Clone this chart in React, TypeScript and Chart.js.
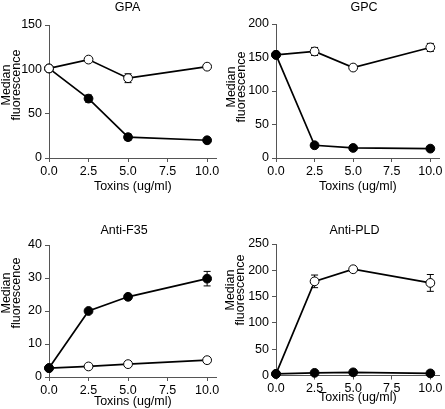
import React, { useEffect, useRef } from "react";
import { Chart, registerables } from "chart.js";

Chart.register(...registerables);

// ---- data ----
const doses = [0, 2.5, 5, 10];
const xTickValues = [0, 2.5, 5, 7.5, 10];

const gpaOpen = [101, 111, 90, 103];
const gpaOpenErr = [0, 1.5, 5, 2];
const gpaFilled = [101, 67, 23.5, 20];
const gpaFilledErr = [0, 4, 3.5, 1];

const gpcOpen = [154, 159, 135, 165];
const gpcOpenErr = [0, 6, 2, 6];
const gpcFilled = [154, 19, 15, 14];
const gpcFilledErr = [0, 1, 1, 1];

const f35Filled = [2.7, 20, 24.3, 29.8];
const f35FilledErr = [0, 0.4, 0.4, 2.2];
const f35Open = [2.7, 3.2, 3.9, 5.1];
const f35OpenErr = [0, 0.2, 0.2, 0.3];

const pldFilled = [3, 5, 6, 4];
const pldFilledErr = [0, 0.5, 0.5, 0.5];
const pldOpen = [3, 179, 202, 176];
const pldOpenErr = [0, 12, 2, 16];

const titles = ["GPA", "GPC", "Anti-F35", "Anti-PLD"];
const yTitleLines = ["Median", "fluorescence"];
const xTitle = "Toxins (ug/ml)";
const yMaxes = [150, 200, 40, 250];
const ySteps = [50, 50, 10, 50];
const xMax = 10.6;

type Series = { values: number[]; errors: number[]; filled: boolean };

// dataset listed first is drawn on top
const panelSeries: Series[][] = [
  [
    { values: gpaOpen, errors: gpaOpenErr, filled: false },
    { values: gpaFilled, errors: gpaFilledErr, filled: true },
  ],
  [
    { values: gpcFilled, errors: gpcFilledErr, filled: true },
    { values: gpcOpen, errors: gpcOpenErr, filled: false },
  ],
  [
    { values: f35Filled, errors: f35FilledErr, filled: true },
    { values: f35Open, errors: f35OpenErr, filled: false },
  ],
  [
    { values: pldFilled, errors: pldFilledErr, filled: true },
    { values: pldOpen, errors: pldOpenErr, filled: false },
  ],
];

// ---- layout (pixels) ----
type Layout = {
  left: number; top: number; w: number; h: number;
  aL: number; aR: number; aT: number; aB: number;
  tX: number; tY: number; xTitleY: number; yTitleX: number; yTitleY: number;
};
const layouts: Layout[] = [
  { left: 0, top: 0, w: 222, h: 205, aL: 49, aR: 218, aT: 25, aB: 158, tX: 127.5, tY: 7.5, xTitleY: 187, yTitleX: 7, yTitleY: 85 },
  { left: 222, top: 0, w: 223, h: 205, aL: 54, aR: 222, aT: 24, aB: 158, tX: 142, tY: 7.5, xTitleY: 187, yTitleX: 9.5, yTitleY: 87 },
  { left: 0, top: 205, w: 222, h: 204, aL: 49, aR: 218, aT: 40, aB: 172, tX: 124, tY: 25.5, xTitleY: 197, yTitleX: 7, yTitleY: 88 },
  { left: 222, top: 205, w: 223, h: 204, aL: 54, aR: 222, aT: 39, aB: 170.5, tX: 132.5, tY: 25.5, xTitleY: 193, yTitleX: 8.5, yTitleY: 85 },
];

const FONT = '"Liberation Sans", Arial, Helvetica, sans-serif';
const FS = 12.5;
const AXIS = "#555";

const errorBarPlugin = {
  id: "errorBars",
  beforeDatasetsDraw(chart: any) {
    const { ctx } = chart;
    const yScale = chart.scales.y;
    chart.data.datasets.forEach((ds: any, i: number) => {
      const errs: number[] | undefined = ds.errors;
      if (!errs) return;
      const meta = chart.getDatasetMeta(i);
      meta.data.forEach((pt: any, j: number) => {
        const e = errs[j];
        if (!e) return;
        const v = ds.data[j].y;
        const top = yScale.getPixelForValue(v + e);
        const bot = yScale.getPixelForValue(v - e);
        const x = pt.x;
        ctx.save();
        ctx.strokeStyle = "#000";
        ctx.lineWidth = 1;
        ctx.beginPath();
        ctx.moveTo(x, top);
        ctx.lineTo(x, bot);
        ctx.moveTo(x - 3.5, top);
        ctx.lineTo(x + 3.5, top);
        ctx.moveTo(x - 3.5, bot);
        ctx.lineTo(x + 3.5, bot);
        ctx.stroke();
        ctx.restore();
      });
    });
  },
};

// panel title + two-line y-axis title
const panelTextPlugin = {
  id: "panelText",
  afterDraw(chart: any, _args: any, opts: any) {
    const { ctx } = chart;
    ctx.save();
    ctx.font = `${FS}px ${FONT}`;
    ctx.fillStyle = "#000";
    ctx.textAlign = "center";
    ctx.textBaseline = "middle";
    ctx.fillText(opts.text, opts.x, opts.y);
    ctx.translate(opts.yx, opts.yy);
    ctx.rotate(-Math.PI / 2);
    (opts.yLines as string[]).forEach((line, k) => {
      ctx.fillText(line, 0, k * opts.yGap);
    });
    ctx.restore();
  },
};

function Panel({ idx }: { idx: number }) {
  const ref = useRef<HTMLCanvasElement | null>(null);
  const L = layouts[idx];
  useEffect(() => {
    if (!ref.current) return;
    const datasets = panelSeries[idx].map((s) => ({
      data: doses.map((d, k) => ({ x: d, y: s.values[k] })),
      errors: s.errors,
      borderColor: "#000",
      borderWidth: 1.7,
      pointRadius: 4.4,
      pointHoverRadius: 4.4,
      pointBorderWidth: 1,
      pointBorderColor: "#000",
      pointBackgroundColor: s.filled ? "#000" : "#fff",
      tension: 0,
      fill: false,
      clip: false as any,
    }));
    const chart = new Chart(ref.current, {
      type: "line",
      data: { datasets } as any,
      plugins: [errorBarPlugin, panelTextPlugin],
      options: {
        animation: false,
        responsive: false,
        events: [],
        layout: { padding: { left: 0, top: L.aT, right: L.w - L.aR, bottom: 0 } },
        plugins: {
          legend: { display: false },
          tooltip: { enabled: false },
          panelText: {
            text: titles[idx], x: L.tX, y: L.tY,
            yLines: yTitleLines, yx: L.yTitleX, yy: L.yTitleY, yGap: 10,
          },
        } as any,
        scales: {
          x: {
            type: "linear",
            min: 0,
            max: xMax,
            afterFit: (s: any) => { s.height = L.h - L.aB; },
            afterBuildTicks: (s: any) => { s.ticks = xTickValues.map((v) => ({ value: v })); },
            ticks: {
              color: "#000",
              font: { family: FONT, size: FS },
              padding: 2,
              maxRotation: 0,
              autoSkip: false,
              callback: (v: any) => Number(v).toFixed(1),
            },
            grid: { display: true, drawOnChartArea: false, drawTicks: true, tickLength: 4, tickColor: AXIS, color: AXIS },
            border: { display: true, color: AXIS, width: 1 },
            title: {
              display: true,
              text: xTitle,
              color: "#000",
              font: { family: FONT, size: FS, lineHeight: 1.2 },
              padding: { top: 0, bottom: L.h - L.xTitleY - FS * 0.6 },
            },
          },
          y: {
            type: "linear",
            min: 0,
            max: yMaxes[idx],
            afterFit: (s: any) => { s.width = L.aL; },
            ticks: {
              stepSize: ySteps[idx],
              color: "#000",
              font: { family: FONT, size: FS },
              padding: 3,
            },
            grid: { display: true, drawOnChartArea: false, drawTicks: true, tickLength: 4, tickColor: AXIS, color: AXIS },
            border: { display: true, color: AXIS, width: 1 },
            title: { display: false },
          },
        },
      } as any,
    });
    return () => chart.destroy();
  }, [idx]);
  return (
    <div style={{ position: "absolute", left: L.left, top: L.top, width: L.w, height: L.h }}>
      <canvas ref={ref} width={L.w} height={L.h} style={{ width: L.w, height: L.h, display: "block" }} />
    </div>
  );
}

export default function App() {
  return (
    <div style={{ position: "absolute", left: 0, top: 0, width: 445, height: 409, background: "#fff", overflow: "hidden" }}>
      {[0, 1, 2, 3].map((i) => (
        <Panel key={i} idx={i} />
      ))}
    </div>
  );
}
